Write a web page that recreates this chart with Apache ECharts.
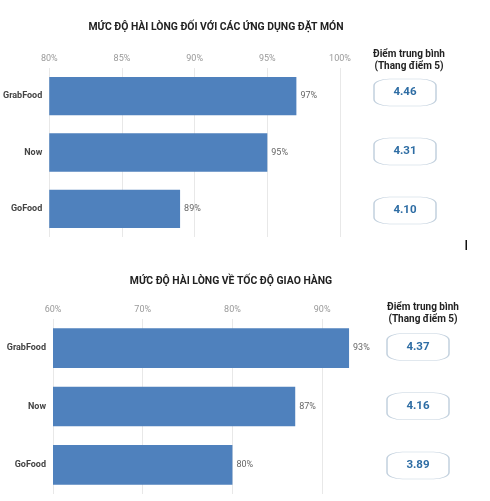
<!DOCTYPE html>
<html><head><meta charset="utf-8">
<script src="https://cdn.jsdelivr.net/npm/echarts@6/dist/echarts.min.js"></script>
<style>html,body{margin:0;padding:0;background:#fff}#c{width:490px;height:501px}</style>
</head><body><div id="c"></div>
<script>
const categories = ['GrabFood', 'Now', 'GoFood'];
const title1 = 'MỨC ĐỘ HÀI LÒNG ĐỐI VỚI CÁC ỨNG DỤNG ĐẶT MÓN';
const title2 = 'MỨC ĐỘ HÀI LÒNG VỀ TỐC ĐỘ GIAO HÀNG';
const scoreHeader = 'Điểm trung bình\n(Thang điểm 5)';
const satisfactionApp = [97, 95, 89];
const scoreApp = [4.46, 4.31, 4.10];
const satisfactionDelivery = [93, 87, 80];
const scoreDelivery = [4.37, 4.16, 3.89];

const font = 'Roboto, "Noto Sans", sans-serif';
const barColor = '#4f81bd';

const chart = echarts.init(document.getElementById('c'), null, {renderer: 'canvas'});

function valAxis(gi, min, max, interval) {
  return {
    type: 'value', gridIndex: gi, position: 'top', min: min, max: max, interval: interval,
    axisLine: {show: false}, axisTick: {show: false},
    axisLabel: {color: '#999', fontSize: 9, fontFamily: font, margin: 5, showMaxLabel: max % interval === 0,
      formatter: v => v + '%'},
    splitLine: {show: true, showMaxLine: max % interval === 0, lineStyle: {color: '#e8e8e8', width: 1}}
  };
}
function catAxis(gi, margin) {
  return {
    type: 'category', gridIndex: gi, data: categories, inverse: true,
    axisLine: {show: false}, axisTick: {show: false},
    axisLabel: {color: '#444', fontSize: 9, fontWeight: 'bold', fontFamily: font, margin: margin}
  };
}
function hiddenVal(gi) {
  return {type: 'value', gridIndex: gi, min: 0, max: 1, show: false, splitLine: {show: false}};
}
function hiddenCat(gi) {
  return {type: 'category', gridIndex: gi, data: categories, inverse: true, show: false};
}
function barSeries(i, data) {
  return {
    type: 'bar', xAxisIndex: i, yAxisIndex: i, data: data, barCategoryGap: '32%',
    itemStyle: {color: barColor},
    label: {show: true, position: 'right', distance: 4, color: '#666', fontSize: 9, fontFamily: font,
      formatter: p => p.value + '%'},
    silent: true
  };
}
function boxSeries(i, scores) {
  return {
    type: 'scatter', xAxisIndex: i, yAxisIndex: i,
    data: categories.map((c, k) => [0.5, c, scores[k]]),
    symbol: 'roundRect', symbolSize: [62, 27],
    itemStyle: {color: '#fff', borderColor: '#c3d1de', borderWidth: 1, opacity: 1},
    label: {show: true, position: 'inside', color: '#2e6da4', fontSize: 11.5, fontWeight: 'bold', fontFamily: font,
      formatter: p => p.value[2].toFixed(2)},
    silent: true
  };
}

chart.setOption({
  animation: false,
  backgroundColor: '#fff',
  title: [
    {text: title1, left: 211, top: 17, textAlign: 'center',
     textStyle: {fontSize: 10.4, fontWeight: 'bold', color: '#222', fontFamily: font}},
    {text: title2, left: 226, top: 271, textAlign: 'center',
     textStyle: {fontSize: 10.4, fontWeight: 'bold', color: '#222', fontFamily: font}},
    {text: scoreHeader, left: 404, top: 43, textAlign: 'center',
     textStyle: {fontSize: 10, fontWeight: 'bold', color: '#222', fontFamily: font, lineHeight: 12}},
    {text: scoreHeader, left: 418, top: 296, textAlign: 'center',
     textStyle: {fontSize: 10, fontWeight: 'bold', color: '#222', fontFamily: font, lineHeight: 12}}
  ],
  grid: [
    {left: 48, width: 292, top: 68, height: 169},
    {left: 53, width: 314, top: 319, height: 175},
    {left: 374, width: 62, top: 63, height: 177},
    {left: 387, width: 62, top: 317.4, height: 177.75}
  ],
  xAxis: [valAxis(0, 80, 100, 5), valAxis(1, 60, 95, 10), hiddenVal(2), hiddenVal(3)],
  yAxis: [catAxis(0, 7), catAxis(1, 7), hiddenCat(2), hiddenCat(3)],
  series: [
    barSeries(0, satisfactionApp),
    barSeries(1, satisfactionDelivery),
    boxSeries(2, scoreApp),
    boxSeries(3, scoreDelivery)
  ],
  graphic: [
    {type: 'rect', shape: {x: 465.5, y: 240, width: 1.5, height: 10}, style: {fill: '#111'}}
  ]
});
</script></body></html>
